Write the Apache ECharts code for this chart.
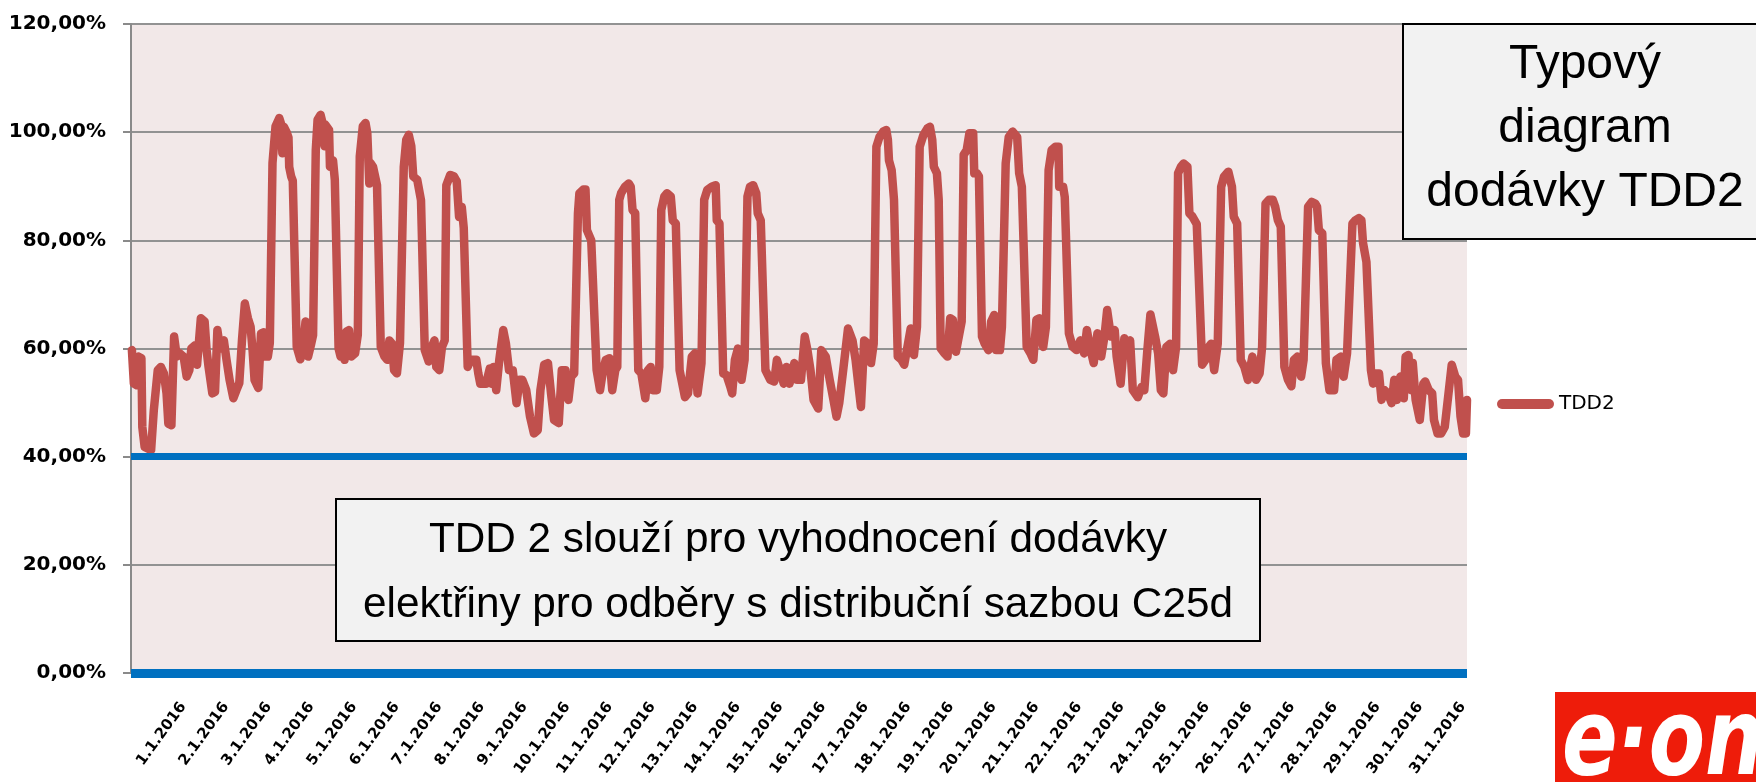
<!DOCTYPE html>
<html><head><meta charset="utf-8">
<script src="https://cdn.jsdelivr.net/npm/echarts@6/dist/echarts.min.js"></script>
<style>html,body{margin:0;padding:0;background:#fff}#c{width:1756px;height:782px}</style>
</head><body><div id="c"></div>
<script>
const dayLabels = ['1.1.2016','2.1.2016','3.1.2016','4.1.2016','5.1.2016','6.1.2016','7.1.2016','8.1.2016','9.1.2016','10.1.2016','11.1.2016','12.1.2016','13.1.2016','14.1.2016','15.1.2016','16.1.2016','17.1.2016','18.1.2016','19.1.2016','20.1.2016','21.1.2016','22.1.2016','23.1.2016','24.1.2016','25.1.2016','26.1.2016','27.1.2016','28.1.2016','29.1.2016','30.1.2016','31.1.2016'];
const yTicks = [0, 20, 40, 60, 80, 100, 120];
const referenceLevels = [40, 0];
const seriesName = 'TDD2';
// [hour of month, % of load]
const tdd2 = [
[0.5,59.7],[1.6,53.5],[3.2,53.2],[4.2,58.5],[5.8,58.2],[6.3,45.5],[7.6,41.8],[11.2,41.2],[12.7,48.6],[14.9,56],[16.6,56.6],[18.3,55.4],[19.8,51.7],[20.8,46.1],[22.5,45.8],
[24,62.2],[25.5,58.5],[27.2,59.1],[29.3,58.5],[31,54.8],[32.5,56],[33.6,60],[35.7,60.6],[36.8,57],[38.9,65.6],[41,65],[42.1,59.7],[43.2,56.6],[45.3,51.7],[46.8,52],
[48.1,63.4],[49.6,60],[51.7,61.5],[53.2,57.9],[54.9,54.2],[57,50.8],[58.7,52.3],[60.3,53.6],[61.8,61.5],[63.4,68.3],[65.1,65.6],[66.6,64],[67.7,59.7],[68.8,54.2],[70.9,52.7],
[72.4,62.8],[74,63],[74.6,58.5],[76.2,58.5],[77.3,61],[78.8,94.3],[80.5,101.1],[82.6,102.6],[83.6,101.5],[84.3,96.1],[85.1,101],[86.9,99.8],[87.7,99],[88.1,93.6],[89.2,91.8],[90.1,91],[92.3,60.3],[94.3,58],[95.8,60.3],
[97.2,65],[98.6,58.5],[100.1,60.5],[101.4,62.5],[102.9,96.7],[103.9,102.3],[105.6,103.2],[107.1,101.1],[107.8,97.4],[108.2,101.4],[110.3,100.4],[110.8,93.6],[112.5,94.8],[113.5,91.2],[115.6,60],[116.7,58.5],[117.8,61.3],[118.9,57.9],
[119.9,63.1],[121.4,63.4],[122.7,58.5],[124.8,59.1],[126.3,62.5],[127.4,95.5],[129.1,101.1],[130.6,101.7],[131.6,99.8],[132.7,90.5],[133.4,94.3],[134.8,93.6],[137,90.2],[139.1,60.3],[141.2,58.5],[142.7,57.9],
[143.9,61.5],[145.4,60.9],[146.5,56],[148.1,55.4],[149.8,61],[151.9,93.6],[153.3,98.6],[154.7,99.5],[156.1,97.4],[157.2,91.8],[159.4,91.2],[161.5,87.4],[163.6,59.7],[165.8,57.6],
[167.5,60.3],[169,61.5],[170,56.6],[171.7,56],[173.2,60.3],[174.7,61.5],[175.6,90.2],[177.8,92.1],[179.9,91.8],[181.4,90.9],[182.7,84.3],[184.2,86.2],[185.3,82.3],[187.5,56.6],[189.2,57.9],
[192.3,57.9],[193.4,55.4],[194.5,53.5],[197.7,53.5],[199.8,56.3],[200.8,53.5],[201.9,56.6],[203.4,52.3],[205.1,57.9],[207.3,63.4],[208.8,60.9],[210.5,56],[212.6,56],[214.7,49.9],
[216.4,54.2],[217.9,54.2],[220.1,52.3],[222.2,47.4],[224.4,44.3],[226.5,44.9],[228,52.3],[230.1,57],[232.2,57.3],[233.9,51.7],[235.6,46.8],[238.2,46.2],
[239.9,56],[242,56],[243.6,50.5],[245.1,54.8],[246.8,55.4],[248.9,85],[249.7,88.7],[251.9,89.4],[253.1,89.4],[253.9,81.9],[256.3,80],[259.3,56],[261.2,52.3],[262.9,56],
[264.4,57.9],[266.5,58.2],[268,52.3],[269.7,56],[270.8,56.6],[271.9,87.5],[272.9,88.7],[275.1,89.9],[277.2,90.5],[278.3,89.9],[279.3,85.6],[280.8,85],[282.5,56],[284.2,55.4],[286.4,50.8],
[287.9,56],[289.4,56.6],[290.6,52.3],[292.8,52.3],[294.2,56.6],[295.3,85.6],[297,88.1],[298.5,88.7],[300.6,88.1],[301.7,83.7],[303.4,83.1],[305.5,56],[307,53.5],[308.5,51],[310.2,51.7],
[312.3,58.5],[314,59.1],[315.5,51.7],[317.7,57.3],[319.2,87.5],[320.9,89.3],[323.4,89.9],[325.6,90.2],[326.2,83.7],[327.7,83.1],[329.8,55.4],[331.6,55.1],[333.7,53],[334.8,51.7],
[336.3,57.9],[338,60],[340,54.2],[341.7,57.9],[343.3,88.1],[344.7,89.9],[346.5,90.2],[348.2,88.7],[349,85],[350.7,83.7],[353.3,56],[356,54.2],[358.2,53.9],
[359.7,57.9],[361.4,56],[363.5,53.5],[365,56.6],[366.7,53.5],[369.4,57.3],[370.9,54.2],[373.1,54.2],[375.2,62.2],[376.7,59.7],[378.4,56],[380.1,50.5],[382.7,48.9],
[384.4,59.7],[386.9,58.5],[389.1,54.2],[391.2,50.5],[392.9,47.4],[394.4,49.9],[396.6,56],[399.3,63.7],[401.8,61.5],[403.5,57.9],[405,53.5],[406.5,49.2],
[408.3,61.5],[410.4,60.9],[412.1,57.3],[413.6,60.9],[415.1,97.3],[416.8,99.1],[418.9,100.1],[420.6,100.4],[421.5,98.6],[422.1,94.8],[423.6,93],[424.9,87.5],[427,58.5],[429.1,57.9],[430.6,57],
[432.7,60.9],[434.2,63.7],[436,58.8],[437.7,64],[439.2,97.3],[441.3,99.5],[443.5,100.7],[444.9,101],[446.2,98.6],[447.1,93.6],[448.8,92.4],[449.8,87.5],[450.9,60],[453,59.1],[454.7,58.5],
[456.2,65.6],[457.7,65.3],[459.4,59.4],[460.5,59.7],[462.6,65],[463.7,95.8],[465.4,96.7],[466.9,99.8],[469,99.8],[469.6,92.4],[471.1,92.4],[472.2,91.8],[473.9,62.2],[475.4,60.9],[477.5,59.7],
[479,65],[480.7,66.2],[481.8,59.7],[483.9,59.7],[485,64],[487.1,94.2],[488.8,99.1],[491,100.1],[493.5,99.1],[494.6,92.4],[496.1,89.9],[498.8,60.3],[500.9,59.1],[502.5,57.9],
[504.2,65.3],[505.9,65.6],[508,60.3],[509.5,64],[511,93],[512.7,96.7],[514.8,97.3],[516.5,97.3],[516.9,89.9],[519.1,89.9],[520,88],[522.3,62.8],[524.4,60.3],[526.5,59.7],
[528.7,61.5],[530.8,59.1],[532.3,63.4],[534,60.3],[536.1,57.3],[538.2,62.8],[540.3,58.5],[542.1,62.2],[543.6,67.1],[545.7,62.2],[547.8,63.4],[548.9,58.5],[551.1,53.5],
[553.2,61.9],[554.9,60.3],[556.4,61.5],[557.9,52.3],[560.7,51],[562.8,52.9],[564.3,52.3],[566,59.7],[567.7,66.3],[570.3,62.2],[572,59.1],[573.5,52.3],[574.9,51.7],
[576.6,60.3],[578.7,60.9],[580.3,56],[582,60.3],[583.1,92.4],[584.7,93.6],[586.2,94.2],[588.3,93.6],[589.4,85],[591.1,84.4],[593.5,83],[596.5,57],[598.3,57.9],
[600.2,60.3],[601.6,60.9],[603.2,56],[605.2,60.9],[607.1,89.9],[608.7,91.8],[611.1,92.7],[613.1,89.9],[614.1,84.4],[616,83.1],[618,57.9],[620,56.6],[622,54.2],
[624.5,58.5],[626.5,54.2],[628.5,55.4],[629.9,60.3],[631.8,86.8],[633.8,87.5],[635.8,87.5],[637.2,86.2],[638.7,83.7],[640.3,82.5],[642.3,56.6],[644.3,54.2],[646.2,53],
[647.6,57.9],[649.6,58.5],[651.6,54.8],[653,57.9],[655.5,86.2],[657.5,87.1],[659.5,86.8],[660.5,86.2],[661.5,81.9],[663.4,81.3],[665.4,57.3],[667.4,52.3],[670,52.3],
[671.3,57.9],[673.9,58.5],[675.3,54.8],[677.2,59.1],[680.2,83.1],[681.8,83.7],[683.8,84.1],[685.2,83.7],[686.1,79.5],[688,76],[690.5,56],[691.7,53.5],
[693,55.4],[695,55.4],[696.4,50.5],[698,52.3],[700,51.7],[702,49.9],[703.5,54.2],[704.9,50.5],[706.9,54.8],[708.8,50.8],[709.8,58.5],[711.4,58.8],[712.8,52.3],[713.8,57.3],[715.4,50.5],
[717.7,46.8],[719.7,53.5],[720.7,53.9],[722.7,52.3],[724.6,51.7],[725.6,46.8],[727.6,44.3],[729.6,44.3],[731.6,45.5],[733.5,51.1],[735.5,57],[737.5,54.8],[739,54.2],[740.4,47.4],[741.8,44.3],[743.4,44.3],[744,50.5]
];

const chart = echarts.init(document.getElementById('c'), null, {renderer: 'canvas'});
const boxFill = '#F2F2F2';
chart.setOption({
  animation: false,
  backgroundColor: '#FFFFFF',
  grid: [
    {left: 131, right: 289, top: 24, bottom: 109, show: true, backgroundColor: '#F2E8E8', borderWidth: 0},
    {left: 162, right: 272, top: 24, bottom: 109, show: false}
  ],
  legend: {
    data: [seriesName], left: 1492, top: 389, itemWidth: 57, itemHeight: 10, itemGap: 0,
    icon: 'path://M5,0 L52,0 A5,5 0 0 1 52,10 L5,10 A5,5 0 0 1 5,0 Z',
    textStyle: {fontFamily: 'DejaVu Sans', fontSize: 20, color: '#000'}
  },
  xAxis: [
    {type: 'value', gridIndex: 0, min: 0, max: 744, show: false},
    {type: 'category', gridIndex: 1, data: dayLabels, boundaryGap: true,
     axisLine: {show: false}, axisTick: {show: false},
     axisLabel: {rotate: 54, margin: 31, interval: 0, fontFamily: 'DejaVu Sans', fontWeight: 'bold', fontSize: 15, color: '#000'}}
  ],
  yAxis: [
    {type: 'value', gridIndex: 0, min: yTicks[0], max: yTicks[yTicks.length - 1], interval: 20,
     axisLine: {show: true, lineStyle: {color: '#8A8A8A', width: 2}},
     axisTick: {show: true, length: 8, lineStyle: {color: '#8A8A8A', width: 2}},
     splitLine: {show: true, lineStyle: {color: '#929292', width: 2}},
     axisLabel: {margin: 25, fontFamily: 'DejaVu Sans', fontWeight: 'bold', fontSize: 20, color: '#000',
       formatter: v => v.toFixed(2).replace('.', ',') + '%'}},
    {type: 'value', gridIndex: 1, show: false, min: 0, max: 120}
  ],
  series: [{
    name: seriesName, type: 'line', xAxisIndex: 0, yAxisIndex: 0, data: tdd2,
    symbol: 'none', smooth: false,
    lineStyle: {color: '#C0504D', width: 8.5, cap: 'round', join: 'round'},
    itemStyle: {color: '#C0504D'},
    markLine: {
      silent: true, symbol: ['none', 'none'], label: {show: false},
      data: referenceLevels.map((v, i) => ({yAxis: v, lineStyle: {color: '#0070C0', width: i === 0 ? 7 : 9, type: 'solid'}}))
    }
  }],
  graphic: [
    {type: 'rect', z: 100, shape: {x: 1403, y: 24, width: 400, height: 215}, style: {fill: boxFill, stroke: '#000', lineWidth: 2}},
    {type: 'text', z: 101, x: 1585, y: 129, style: {text: 'Typový\ndiagram\ndodávky TDD2', fontFamily: 'Liberation Sans', fontSize: 48, lineHeight: 64, fill: '#000', align: 'center', verticalAlign: 'middle'}},
    {type: 'rect', z: 100, shape: {x: 336, y: 499, width: 924, height: 142}, style: {fill: boxFill, stroke: '#000', lineWidth: 2}},
    {type: 'text', z: 101, x: 798, y: 573, style: {text: 'TDD 2 slouží pro vyhodnocení dodávky\nelektřiny pro odběry s distribuční sazbou C25d', fontFamily: 'Liberation Sans', fontSize: 42.3, lineHeight: 65, fill: '#000', align: 'center', verticalAlign: 'middle'}},
    {type: 'rect', z: 100, shape: {x: 1555, y: 692, width: 210, height: 95}, style: {fill: '#EE1C0A'}},
    {type: 'text', z: 101, x: 1562, y: 800, scaleY: 1.3, style: {text: 'e·on', fontFamily: 'DejaVu Sans', fontWeight: 'bold', fontStyle: 'italic', fontSize: 82, fill: '#fff', align: 'left', verticalAlign: 'bottom'}}
  ]
});
</script>
</body></html>
